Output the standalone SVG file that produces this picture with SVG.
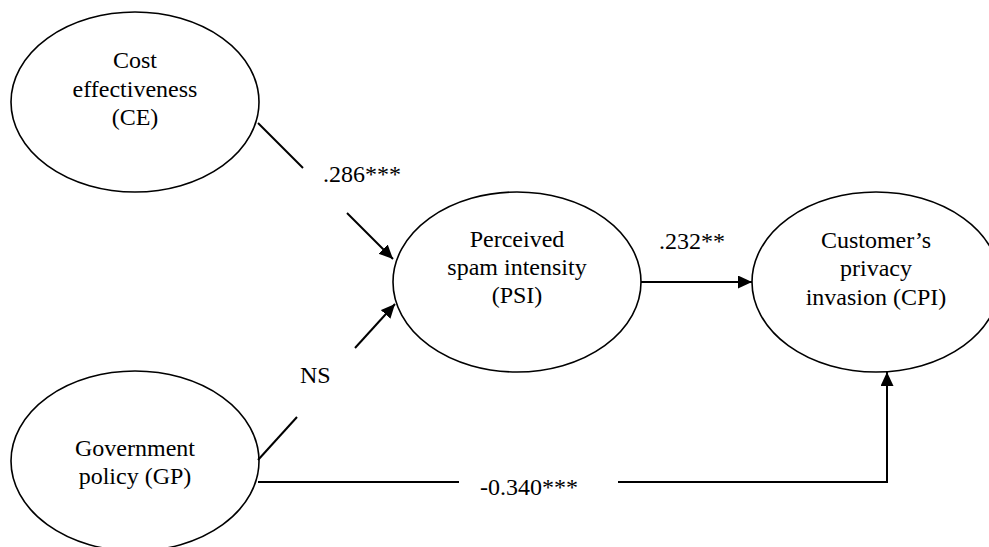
<svg xmlns="http://www.w3.org/2000/svg" width="989" height="547" viewBox="0 0 989 547">
<style>
.node ellipse{fill:#fff;stroke:#000;stroke-width:1.6}
text{font-family:'Liberation Serif','DejaVu Serif',serif;font-size:24px;fill:#000}
.c{text-anchor:middle}
.conn line,.conn polyline{stroke:#000;stroke-width:2;fill:none}
</style>
<defs>
<marker id="ah" markerUnits="userSpaceOnUse" markerWidth="15" markerHeight="14" refX="14" refY="6.5" orient="auto">
<path d="M0,0 L14,6.5 L0,13 z" fill="#000"/>
</marker>
</defs>
<g font-family="Liberation Serif, serif" font-size="24">
<g id="CE" class="node">
<ellipse cx="135" cy="102" rx="124" ry="90"/>
<text class="c" x="135" y="68">Cost</text>
<text class="c" x="135" y="96.5">effectiveness</text>
<text class="c" x="135" y="125">(CE)</text>
</g>
<g id="GP" class="node">
<ellipse cx="135" cy="461" rx="124" ry="90"/>
<text class="c" x="135" y="456">Government</text>
<text class="c" x="135" y="484">policy (GP)</text>
</g>
<g id="PSI" class="node">
<ellipse cx="517" cy="282" rx="124" ry="90"/>
<text class="c" x="517" y="247">Perceived</text>
<text class="c" x="517" y="275">spam intensity</text>
<text class="c" x="517" y="303">(PSI)</text>
</g>
<g id="CPI" class="node">
<ellipse cx="876" cy="282" rx="124" ry="90"/>
<text class="c" x="876" y="248">Customer’s</text>
<text class="c" x="876" y="276">privacy</text>
<text class="c" x="876" y="305">invasion (CPI)</text>
</g>
<g id="connectors" class="conn">
<line x1="258" y1="123" x2="303" y2="168"/>
<line x1="347" y1="213" x2="393" y2="259" marker-end="url(#ah)"/>
<line x1="258" y1="460" x2="297" y2="417"/>
<line x1="355" y1="348" x2="395" y2="304" marker-end="url(#ah)"/>
<line x1="641" y1="282" x2="752" y2="282" marker-end="url(#ah)"/>
<line x1="258" y1="482" x2="459" y2="482"/>
<polyline points="618,482 887,482 887,372" marker-end="url(#ah)"/>
<text x="323" y="182">.286***</text>
<text x="300" y="383">NS</text>
<text x="659" y="249">.232**</text>
<text x="480" y="495">-0.340***</text>
</g>
</g>
</svg>
